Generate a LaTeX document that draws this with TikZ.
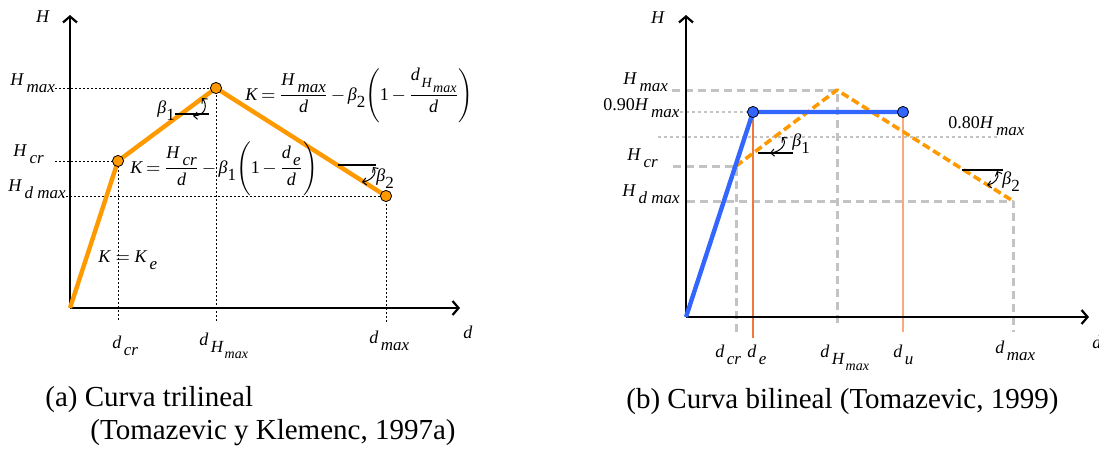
\documentclass[tikz,border=0pt]{standalone}
\usepackage{fontspec}
\setmainfont{Liberation Serif}
\usepackage{amsmath}
\usetikzlibrary{arrows.meta}

\definecolor{cam}{RGB}{255,153,0}
\definecolor{xanh}{RGB}{51,102,255}
\definecolor{xam}{RGB}{195,195,195}
\definecolor{camdam}{RGB}{240,120,60}
\definecolor{camnhat}{RGB}{250,170,120}

% Khoảng cách trong công thức
\medmuskip=2.5mu plus 1mu minus 1mu\relax
\thickmuskip=3.5mu plus 1mu\relax

% Ký hiệu có chỉ số dưới
\newcommand\chiso[2]{\textit{#1}\kern1.2pt\raisebox{-0.9ex}{\fontsize{8.5}{9}\selectfont\textit{#2}}}
\newcommand\chisonho[2]{\textit{#1}\kern0.8pt\raisebox{-0.8ex}{\fontsize{7}{8}\selectfont\textit{#2}}}
\newcommand\goc[1]{\textit{β}\raisebox{-0.9ex}{\fontsize{8.5}{9}\selectfont #1}}

\tikzset{
  truc/.style={line width=1.1pt, -{Straight Barb[length=3pt,width=7pt]}},
  cham/.style={line width=0.5pt, dash pattern=on 1pt off 1pt},
  xamnet/.style={xam, line width=1.5pt, dash pattern=on 4pt off 2.5pt},
  xamcham/.style={xam, line width=0.7pt, dash pattern=on 1.5pt off 1.5pt},
  diem/.style={line width=0.4pt},
  cung/.style={line width=0.5pt, {Straight Barb[length=1.8pt]}-{Straight Barb[length=1.8pt]}},
  nhan/.style={anchor=base west},
  chuthich/.style={anchor=west, font=\fontsize{14.5}{17}\selectfont}
}

\begin{document}
\begin{tikzpicture}[x=0.5pt, y=-0.5pt, line join=round, inner sep=0pt,
  font=\fontsize{9}{11}\selectfont]
\useasboundingbox (0,0) rectangle (1099,451);

% ===== Hình (a) =====
% Định nghĩa toạ độ các điểm
\coordinate (O) at (70,308);
\coordinate (C) at (118,161);
\coordinate (M) at (216,88);
\coordinate (D) at (386,196);

% Đường gióng (nét chấm)
\draw[cham] (55,88) -- (M) -- (216,322);
\draw[cham] (55,161) -- (C) -- (118,322);
\draw[cham] (62,196) -- (D) -- (386,322);

% Trục toạ độ
\draw[truc] (O) -- (70,15);
\draw[truc] (O) -- (460,308);

% Đường cong ba đoạn
\draw[cam, line width=2.2pt] (O) -- (C) -- (M) -- (D);
\foreach \p in {C,M,D}
  \draw[diem, fill=cam] (\p) circle[radius=2.8pt];

% Góc beta
\draw[line width=0.6pt] (175,114) -- (209,114);
\draw[cung] (193,116) .. controls (207,115) and (207,104) .. (202,98);
\draw[line width=0.6pt] (338,165) -- (376,165);
\draw[cung] (373,167) .. controls (378,174) and (370,181) .. (362,182);

% Gán nhãn
\node (Ha) at (43,17) {\textit{H}};
\node[nhan] (Hma) at (10,85) {\chiso{H}{max}};
\node[nhan] (Hcra) at (13,156) {\chiso{H}{cr}};
\node[nhan] (Hda) at (8,191) {\chiso{H}{d max}};
\node[nhan] (dcra) at (112,348) {\chiso{d}{cr}};
\node[nhan] (dHa) at (199,345) {\chiso{d}{\chisonho{H}{max}}};
\node[nhan] (dma) at (369,343) {\chiso{d}{max}};
\node[nhan] (da) at (463,338) {\textit{d}};
\node[nhan] (Ke) at (98,262) {\textit{K} $=$ \chiso{K}{e}};
\node[nhan] (K1) at (130,173) {$\text{\itshape K} = \dfrac{\text{\chiso{H}{cr}}}{\text{\itshape d}}
  - \text{\goc{1}}\Biggl(\text{1} - \dfrac{\text{\chiso{d}{e}}}{\text{\itshape d}}\Biggr)$};
\node[nhan] (K2) at (245,100) {$\text{\itshape K} = \dfrac{\text{\chiso{H}{max}}}{\text{\itshape d}}
  - \text{\goc{2}}\Biggl(\text{1} - \dfrac{\text{\chisonho{d}{\chisonho{H}{max}}}}{\text{\itshape d}}\Biggr)$};
\node[nhan] (b1a) at (157,113) {\goc{1}};
\node[nhan] (b2a) at (376,181) {\goc{2}};
\node[chuthich] (capa) at (45,400) {(a) Curva trilineal};
\node[chuthich] (capb) at (90,433) {(Tomazevic y Klemenc, 1997a)};

% ===== Hình (b) =====
\coordinate (P) at (686,317);
\coordinate (E) at (753,112);
\coordinate (U) at (903,112);
\coordinate (C2) at (736,166);
\coordinate (M2) at (837,90);
\coordinate (D2) at (1013,201);

% Đường gióng (nét đứt xám)
\draw[xamnet] (672,90) -- (M2) -- (837,325);
\draw[xamnet] (673,166) -- (C2) -- (736,332);
\draw[xamnet] (687,201) -- (D2) -- (1013,332);
\draw[xamcham] (668,112) -- (E);
\draw[xamcham] (658,137) -- (1000,137);
\draw[camdam, line width=0.6pt] (E) -- (753,338);
\draw[camnhat, line width=0.8pt] (U) -- (903,332);

% Trục toạ độ
\draw[truc] (P) -- (686,15);
\draw[truc] (P) -- (1089,317);

% Đường cong ba đoạn (nét đứt) và hai đoạn
\draw[cam, line width=0.6pt] (P) -- (C2);
\draw[cam, line width=1.8pt, dash pattern=on 4pt off 2pt] (C2) -- (M2) -- (D2);
\draw[xanh, line width=2.2pt] (P) -- (E) -- (U);
\foreach \p in {E,U}
  \draw[diem, fill=xanh] (\p) circle[radius=2.8pt];

% Góc beta
\draw[line width=0.6pt] (758,153) -- (793,153);
\draw[cung] (782,137) .. controls (788,144) and (780,152) .. (770,153);
\draw[line width=0.6pt] (962,170) -- (1003,170);
\draw[cung] (997,171) .. controls (1000,178) and (994,184) .. (987,185);

% Gán nhãn
\node (Hb) at (658,18) {\textit{H}};
\node[nhan] (Hmb) at (623,84) {\chiso{H}{max}};
\node[nhan] (H90) at (603,110) {0.90\chiso{H}{max}};
\node[nhan] (H80) at (948,128) {0.80\chiso{H}{max}};
\node[nhan] (Hcrb) at (627,160) {\chiso{H}{cr}};
\node[nhan] (Hdb) at (622,196) {\chiso{H}{d max}};
\node[nhan] (dcrb) at (715,357) {\chiso{d}{cr}};
\node[nhan] (deb) at (747,357) {\chiso{d}{e}};
\node[nhan] (dHb) at (820,357) {\chiso{d}{\chisonho{H}{max}}};
\node[nhan] (dub) at (893,357) {\chiso{d}{u}};
\node[nhan] (dmb) at (995,353) {\chiso{d}{max}};
\node[nhan] (db) at (1092,348) {\textit{d}};
\node[nhan] (b1b) at (792,146) {\goc{1}};
\node[nhan] (b2b) at (1002,184) {\goc{2}};
\node[chuthich] (capc) at (626,402) {(b) Curva bilineal (Tomazevic, 1999)};
\end{tikzpicture}
\end{document}
